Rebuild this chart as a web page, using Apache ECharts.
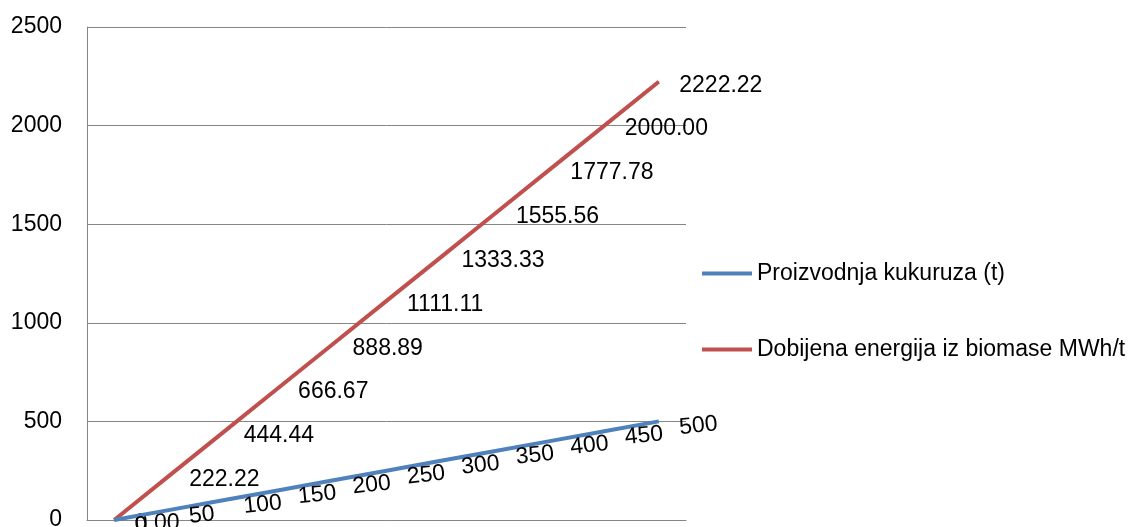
<!DOCTYPE html>
<html>
<head>
<meta charset="utf-8">
<script src="https://cdn.jsdelivr.net/npm/echarts@6/dist/echarts.min.js"></script>
<style>html,body{margin:0;padding:0;background:#fff;}#c{width:1133px;height:527px;}</style>
</head>
<body>
<div id="c"></div>
<script>
var categories = ['1','2','3','4','5','6','7','8','9','10','11'];
var kukuruz = [0, 50, 100, 150, 200, 250, 300, 350, 400, 450, 500];
var energija = [0, 222.22, 444.44, 666.67, 888.89, 1111.11, 1333.33, 1555.56, 1777.78, 2000.00, 2222.22];
var seriesNames = ['Proizvodnja kukuruza (t)', 'Dobijena energija iz biomase MWh/t'];
var yTicks = { min: 0, max: 2500, interval: 500 };

var FONT = '"Liberation Sans", Arial, sans-serif';
var chart = echarts.init(document.getElementById('c'));
chart.setOption({
  backgroundColor: '#ffffff',
  animation: false,
  grid: { left: 87, right: 447, top: 27, bottom: 7, outerBoundsMode: 'none', containLabel: false },
  legend: {
    orient: 'vertical',
    left: 702, top: 262,
    padding: 0,
    itemWidth: 50, itemHeight: 4,
    itemGap: 53,
    icon: 'rect',
    textStyle: { fontFamily: FONT, fontSize: 23, lineHeight: 23, color: '#000' },
    data: seriesNames
  },
  xAxis: {
    type: 'category',
    data: categories,
    boundaryGap: true,
    axisLine: { lineStyle: { color: '#868686', width: 1 } },
    axisTick: { show: false },
    axisLabel: { show: false }
  },
  yAxis: {
    type: 'value',
    min: yTicks.min, max: yTicks.max, interval: yTicks.interval,
    axisLine: { show: true, lineStyle: { color: '#868686', width: 1 } },
    axisTick: { show: false },
    splitLine: { lineStyle: { color: '#868686', width: 1 } },
    axisLabel: { fontFamily: FONT, fontSize: 23, color: '#000', margin: 25,
      formatter: function (v) { return String(v); } }
  },
  series: [
    {
      name: seriesNames[0], type: 'line', data: kukuruz,
      symbol: 'circle', symbolSize: 1, showSymbol: true,
      lineStyle: { color: '#4F81BD', width: 4 },
      itemStyle: { color: '#4F81BD' },
      label: { show: true, position: [21, 7], align: 'left', verticalAlign: 'middle', rotate: 6,
        fontFamily: FONT, fontSize: 23, color: '#000',
        formatter: function (p) { return String(p.value); } },
      labelLayout: { hideOverlap: false },
      z: 3
    },
    {
      name: seriesNames[1], type: 'line', data: energija,
      symbol: 'circle', symbolSize: 1, showSymbol: true,
      lineStyle: { color: '#C0504D', width: 4 },
      itemStyle: { color: '#C0504D' },
      label: { show: true, position: [21, 4], align: 'left', verticalAlign: 'middle',
        fontFamily: FONT, fontSize: 23, color: '#000',
        formatter: function (p) { return p.value.toFixed(2); } },
      labelLayout: { hideOverlap: false },
      z: 2
    }
  ]
});
</script>
</body>
</html>
